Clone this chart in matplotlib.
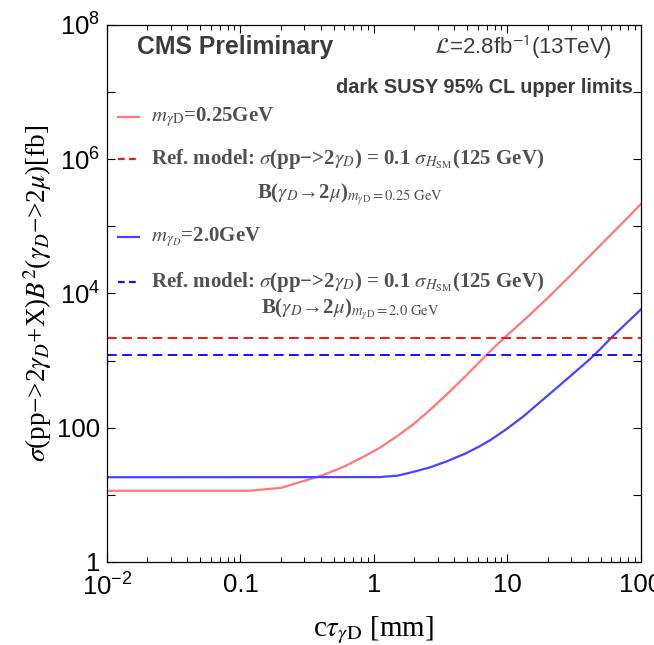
import matplotlib
matplotlib.use("Agg")
import matplotlib.pyplot as plt
from matplotlib.ticker import NullLocator, LogLocator
from matplotlib.lines import Line2D

# Data (log-log)
ctau_red = [0.01, 0.115, 0.2, 0.28, 0.41, 0.6, 0.83, 1.1, 1.49, 2.0, 2.63, 3.5, 4.65, 7.0, 9.6, 14, 19.8, 30, 45, 70, 100]
sigma_red = [11.5, 11.5, 12.7, 15.5, 19.5, 26.5, 36.7, 50, 75, 115, 184, 312, 540, 1230, 2250, 4400, 8400, 19000, 43000, 104000, 215000]

ctau_blue = [0.01, 1.1, 1.5, 1.95, 2.6, 3.5, 4.8, 6.2, 7.4, 9.8, 13, 17.5, 25, 41.5, 50, 60, 100]
sigma_blue = [18.3, 18.4, 19.3, 21.9, 25.5, 31.5, 41, 53, 65, 95, 145, 240, 440, 1054, 1510, 2200, 5800]

ref_red = 2200    # reference model, m = 0.25 GeV
ref_blue = 1230   # reference model, m = 2.0 GeV

xticks = [0.01, 0.1, 1, 10, 100]
xticklabels = [r"$10^{-2}$", "0.1", "1", "10", "100"]
yticks = [1, 10, 100, 1e3, 1e4, 1e5, 1e6, 1e7, 1e8]
yticklabels = ["1", "", "100", "", r"$10^4$", "", r"$10^6$", "", r"$10^8$"]

plt.rcParams["font.family"] = ["Liberation Sans", "DejaVu Sans"]
plt.rcParams["mathtext.fontset"] = "custom"
plt.rcParams["mathtext.rm"] = "Liberation Sans"
plt.rcParams["mathtext.it"] = "Liberation Sans:italic"
plt.rcParams["mathtext.bf"] = "Liberation Sans:bold"

RED_LIGHT = "#ff7878"
BLUE_MID = "#4545ff"
RED = "#ff1010"
BLUE = "#1010ff"
TXT = "#505050"
SERIF = ["Liberation Serif", "DejaVu Serif"]

fig = plt.figure(figsize=(6.54, 6.45), dpi=100)
ax = fig.add_axes([0.1636, 0.1287, 0.8165, 0.8326])

ax.plot(ctau_red, sigma_red, color=RED_LIGHT, lw=1.6)
ax.plot(ctau_blue, sigma_blue, color=BLUE_MID, lw=1.6)
ax.axhline(ref_red, color=RED, lw=1.4, ls=(0, (5, 2.8)))
ax.axhline(ref_blue, color=BLUE, lw=1.4, ls=(0, (5, 2.8)))

ax.set_xscale("log")
ax.set_yscale("log")
ax.set_xlim(0.01, 100)
ax.set_ylim(1, 1e8)

ax.set_xticks(xticks)
ax.set_xticklabels(xticklabels)
ax.set_yticks(yticks)
ax.set_yticklabels(yticklabels)
ax.xaxis.set_minor_locator(LogLocator(base=10, subs=range(2, 10), numticks=20))
ax.yaxis.set_minor_locator(NullLocator())
ax.tick_params(which="both", direction="in", top=True, right=True, labelsize=18.5)
ax.tick_params(axis="x", pad=8)
ax.tick_params(axis="y", pad=5)
ax.tick_params(which="major", length=6, width=0.8)
ax.tick_params(which="minor", length=3.5, width=0.7)
for s in ax.spines.values():
    s.set_linewidth(0.9)

ax.set_xlabel(r"c$\tau_{\gamma\mathrm{D}}$ [mm]", fontsize=21, family=SERIF,
              math_fontfamily="stix", labelpad=10)
ax.set_ylabel(r"$\sigma$(pp−>2$\gamma_D$+X)$B^2$($\gamma_D$−>2$\mu$)[fb]", fontsize=19.5,
              family=SERIF, math_fontfamily="stix", labelpad=2)

# header texts
ax.text(0.056, 0.959, "CMS Preliminary", transform=ax.transAxes, fontsize=17.8,
        fontweight="bold", color="#3c3c3c", va="center", ha="left")
ax.text(0.946, 0.959, r"$\mathcal{L}$=2.8fb$^{-1}$(13TeV)", transform=ax.transAxes,
        fontsize=16, color="#3c3c3c", va="center", ha="right", math_fontfamily="stixsans")
ax.text(0.985, 0.883, "dark SUSY 95% CL upper limits", transform=ax.transAxes,
        fontsize=14.3, fontweight="bold", color="#3c3c3c", va="center", ha="right")

# legend, drawn by hand
legend_rows = [
    (0.829, RED_LIGHT, "-", r"$m_{\gamma\mathrm{D}}$=0.25GeV"),
    (0.750, RED, (0, (3, 2)), r"Ref. model: $\sigma$(pp−>2$\gamma_D$) = 0.1 $\sigma_{H_\mathrm{SM}}$(125 GeV)"),
    (0.605, BLUE_MID, "-", r"$m_{\gamma_D}$=2.0GeV"),
    (0.521, BLUE, (0, (3, 2)), r"Ref. model: $\sigma$(pp−>2$\gamma_D$) = 0.1 $\sigma_{H_\mathrm{SM}}$(125 GeV)"),
]
for yy, col, ls, label in legend_rows:
    ax.add_line(Line2D([0.021, 0.060], [yy, yy], transform=ax.transAxes, color=col, lw=1.6, ls=ls))
    ax.text(0.083, yy, label, transform=ax.transAxes, fontsize=15, fontweight="bold",
            color=TXT, va="center", ha="left", family=SERIF, math_fontfamily="stix")

for yy, mass in [(0.684, "0.25"), (0.470, "2.0")]:
    ax.text(0.455, yy, r"B($\gamma_D$→2$\mu$)$_{m_{\gamma\mathrm{D}}=%s\ \mathrm{GeV}}$" % mass,
            transform=ax.transAxes, fontsize=15, fontweight="bold", color=TXT,
            va="center", ha="center", family=SERIF, math_fontfamily="stix")

fig.savefig("out.png", dpi=100)
